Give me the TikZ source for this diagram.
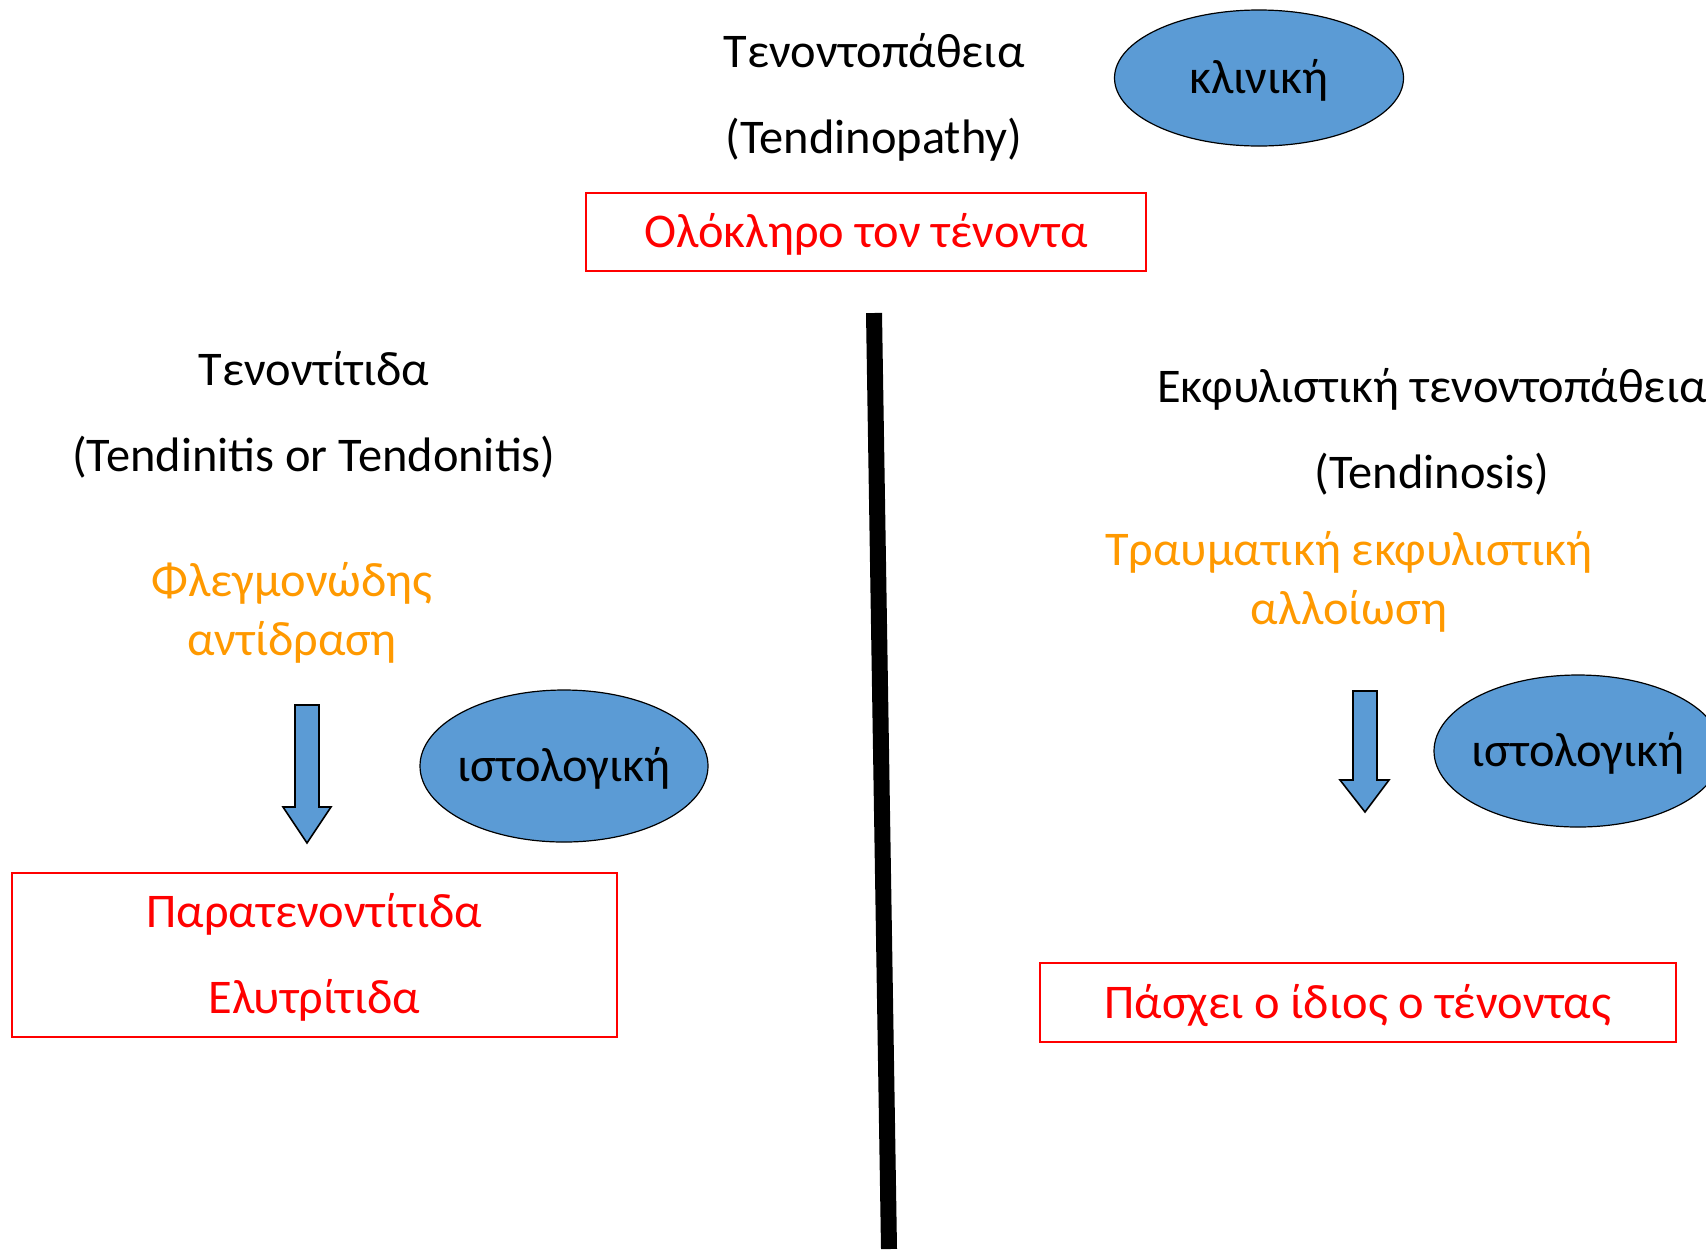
\documentclass[tikz,border=0pt]{standalone}
\usepackage{fontspec}
\setmainfont{Carlito}
\usetikzlibrary{shapes.geometric}

\definecolor{boxRed}{RGB}{255,0,0}
\definecolor{textOrange}{RGB}{255,153,0}
\definecolor{fillBlue}{RGB}{91,155,213}

\tikzset{
  title/.style={align=center, font=\fontsize{24.2}{43}\selectfont},
  orangetext/.style={align=center, text=textOrange, font=\fontsize{24.2}{29.5}\selectfont},
  redbox/.style={draw=boxRed, line width=1pt, text=boxRed, align=center,
    font=\fontsize{24.2}{43}\selectfont, inner sep=0pt, text depth=0.15em},
  bluetag/.style={ellipse, draw=black, line width=0.6pt, fill=fillBlue, inner sep=0pt,
    label={[font=\fontsize{24.2}{28}\selectfont, yshift=-1pt]center:#1}}
}
\tikzset{blockarrow/.style={draw=black, line width=0.8pt, fill=fillBlue, line join=miter}}

\begin{document}
\begin{tikzpicture}[x=0.5pt, y=-0.5pt]

  \useasboundingbox (0,0) rectangle (1706,1249);

  % top part
  \node[title] (tendinopathy) at (874,97) {Τενοντοπάθεια\\(Tendinopathy)};
  \node[bluetag=κλινική, minimum width=144.5pt, minimum height=68pt] (clinical) at (1259,78) {};
  \node[redbox, minimum width=280pt, minimum height=39pt] (whole) at (866,232) {Ολόκληρο τον τένοντα};

  % dividing line
  \coordinate (divtop) at (874,313);
  \coordinate (divbot) at (889,1249);
  \draw[line width=8pt] (divtop) -- (divbot);

  % left: tendinitis
  \node[title] (tendinitis) at (314,415) {Τενοντίτιδα\\(Tendinitis or Tendonitis)};
  \node[orangetext] (inflam) at (292,613) {Φλεγμονώδης\\αντίδραση};
  \draw[blockarrow] (295,705) -- (319,705) -- (319,807) -- (331,807) -- (307,843)
    -- (283,807) -- (295,807) -- cycle;
  \node[bluetag=ιστολογική, minimum width=144pt, minimum height=76pt] (histoL) at (564,766) {};
  \node[redbox, minimum width=302.5pt, minimum height=82pt] (paraten) at (314.5,955)
    {Παρατενοντίτιδα\\Ελυτρίτιδα};

  % right: tendinosis
  \node[title] (tendinosis) at (1432,432) {Εκφυλιστική τενοντοπάθεια\\(Tendinosis)};
  \node[orangetext] (degen) at (1349,582) {Τραυματική εκφυλιστική\\αλλοίωση};
  \draw[blockarrow] (1353,691) -- (1377,691) -- (1377,780) -- (1389,780) -- (1365,812)
    -- (1340,780) -- (1353,780) -- cycle;
  \node[bluetag=ιστολογική, minimum width=144pt, minimum height=76pt] (histoR) at (1578,751) {};
  \node[redbox, minimum width=318pt, minimum height=39.5pt] (itself) at (1358,1002.5)
    {Πάσχει ο ίδιος ο τένοντας};

\end{tikzpicture}
\end{document}
